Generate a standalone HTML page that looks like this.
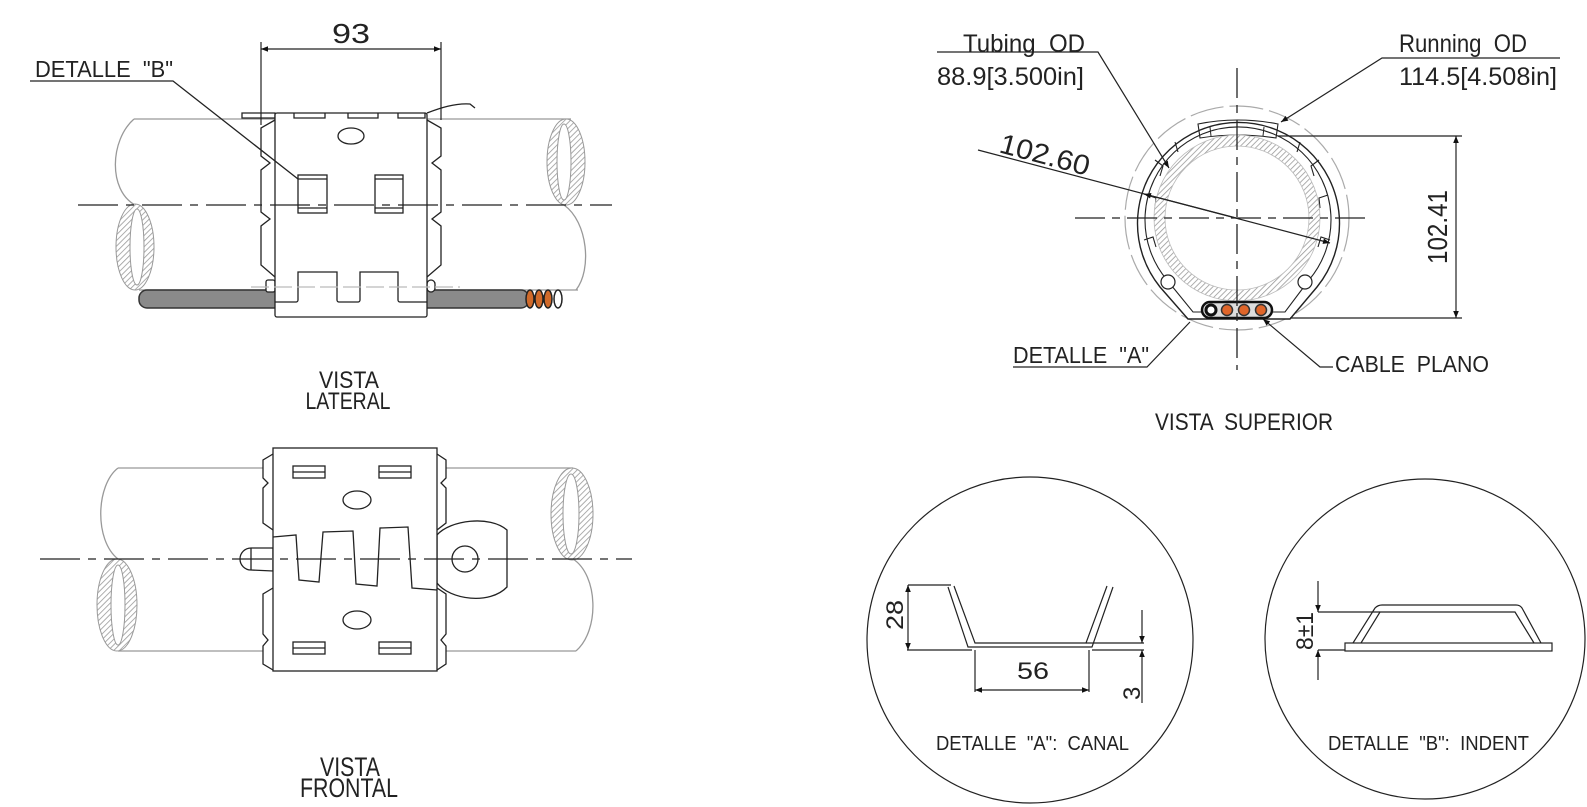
<!DOCTYPE html>
<html><head><meta charset="utf-8"><style>
html,body{margin:0;padding:0;background:#fff;}
svg{display:block;}
text{font-family:"Liberation Sans",sans-serif;fill:#222;white-space:pre;}
</style></head><body>
<svg width="1587" height="807" viewBox="0 0 1587 807" xmlns="http://www.w3.org/2000/svg">
<defs>
<pattern id="h" width="4" height="4" patternUnits="userSpaceOnUse" patternTransform="rotate(45)">
<rect width="4" height="4" fill="#fff"/><line x1="0" y1="0" x2="0" y2="4" stroke="#999" stroke-width="1.6"/></pattern>
<marker id="ar" viewBox="0 0 10 10" refX="10" refY="5" markerWidth="14" markerHeight="7" orient="auto-start-reverse" markerUnits="userSpaceOnUse"><path d="M0,1 L10,5 L0,9 z" fill="#111"/></marker>
</defs>

<!-- ============ VISTA LATERAL ============ -->
<g fill="none" stroke="#999" stroke-width="1.3">
<line x1="134" y1="119" x2="571" y2="119"/>
<line x1="139" y1="290" x2="578" y2="290"/>
<path d="M134,119 C110,140 108,190 135,205"/>
<path d="M564,205 C588,222 592,270 576,290"/>
</g>
<ellipse cx="135" cy="247" rx="19" ry="43" fill="url(#h)" stroke="#999"/>
<ellipse cx="137" cy="247" rx="7" ry="38" fill="#fff" stroke="#999"/>
<ellipse cx="566" cy="162" rx="19" ry="43" fill="url(#h)" stroke="#999"/>
<ellipse cx="564" cy="162" rx="7" ry="38" fill="#fff" stroke="#999"/>
<rect x="139" y="290" width="390" height="18" rx="8" fill="#8a8a8a" stroke="#333" stroke-width="1.5"/>
<g stroke="#222" stroke-width="1.5">
<ellipse cx="530" cy="299" rx="4" ry="9" fill="#d06a2a"/>
<ellipse cx="539" cy="299" rx="4" ry="9" fill="#d06a2a"/>
<ellipse cx="548" cy="299" rx="4" ry="9" fill="#d06a2a"/>
<ellipse cx="558" cy="299" rx="4" ry="9" fill="#fff"/>
</g>
<g stroke="#222" stroke-width="1.3" fill="#fff">
<path d="M242,113 L275,113 L275,118 L242,118 z"/>
<path d="M275,120 L261,128 L261,156 L270,163 L261,170 L261,212 L270,219 L261,226 L261,265 L275,277"/>
<path d="M427,120 L441,128 L441,156 L432,163 L441,170 L441,212 L432,219 L441,226 L441,265 L427,277"/>
<rect x="266" y="280" width="9" height="12" rx="2"/>
<rect x="427" y="280" width="8" height="12" rx="4"/>
<rect x="275" y="113" width="152" height="204" rx="2"/>
<path d="M294,113 V118 H325 V113 M348,113 V118 H378 V113 M398,113 V118 H425 V113" fill="none"/>
<path d="M427,113 C440,108 455,103 470,104 L475,108" fill="none"/>
<ellipse cx="351" cy="136" rx="13" ry="8"/>
<rect x="298" y="175" width="29" height="38"/>
<rect x="375" y="175" width="28" height="38"/>
<path d="M298,179 H327 M298,208 H327 M375,179 H403 M375,208 H403" fill="none"/>
<path d="M275,302 H296 a2,2 0 0 0 2,-2 V272 H337 V300 a2,2 0 0 0 2,2 H358 a2,2 0 0 0 2,-2 V272 H398 V300 a2,2 0 0 0 2,2 H427" fill="none"/>
</g>
<line x1="251" y1="287" x2="460" y2="287" stroke="#bbb" stroke-width="1.3" stroke-dasharray="18 5"/>
<line x1="78" y1="205" x2="612" y2="205" stroke="#222" stroke-width="1.3" stroke-dasharray="40 8 8 8"/>
<g stroke="#222" stroke-width="1.2">
<line x1="261" y1="42" x2="261" y2="125"/>
<line x1="441" y1="42" x2="441" y2="120"/>
<line x1="261" y1="49" x2="441" y2="49" marker-start="url(#ar)" marker-end="url(#ar)"/>
</g>
<text x="351" y="43" font-size="28" text-anchor="middle" textLength="38" lengthAdjust="spacingAndGlyphs">93</text>
<text x="35" y="77" font-size="23" textLength="138" lengthAdjust="spacingAndGlyphs">DETALLE  "B"</text>
<polyline points="30,81 173,81 298,179" fill="none" stroke="#222" stroke-width="1.3"/>
<text x="349" y="388" font-size="24" text-anchor="middle" textLength="60" lengthAdjust="spacingAndGlyphs">VISTA</text>
<text x="348" y="409" font-size="24" text-anchor="middle" textLength="85" lengthAdjust="spacingAndGlyphs">LATERAL</text>

<!-- ============ VISTA FRONTAL ============ -->
<g fill="none" stroke="#999" stroke-width="1.3">
<line x1="118" y1="468" x2="263" y2="468"/>
<line x1="446" y1="468" x2="573" y2="468"/>
<line x1="118" y1="651" x2="263" y2="651"/>
<line x1="446" y1="651" x2="576" y2="651"/>
<path d="M118,468 C96,485 94,540 118,559"/>
<path d="M573,559 C598,575 600,630 576,651"/>
</g>
<ellipse cx="117" cy="605" rx="20" ry="46" fill="url(#h)" stroke="#999"/>
<ellipse cx="118" cy="605" rx="7" ry="40" fill="#fff" stroke="#999"/>
<ellipse cx="572" cy="514" rx="21" ry="46" fill="url(#h)" stroke="#999"/>
<ellipse cx="571" cy="514" rx="8" ry="40" fill="#fff" stroke="#999"/>
<g stroke="#222" stroke-width="1.3" fill="#fff">
<path d="M273,454 L263,460 L263,478 L268,483 L263,488 L263,523 L273,530"/>
<path d="M273,588 L263,594 L263,634 L268,640 L263,646 L263,664 L273,670"/>
<path d="M437,454 L446,460 L446,478 L441,483 L446,488 L446,523 L437,530"/>
<path d="M437,588 L446,594 L446,634 L441,640 L446,646 L446,664 L437,670"/>
<path d="M273,548 L251,548 A11,11 0 0 0 251,570 L273,571 z"/>
<line x1="251" y1="548" x2="251" y2="570"/>
<path d="M437,535 C450,520 490,515 507,530 L507,587 C490,605 450,600 437,583 z"/>
<rect x="273" y="448" width="164" height="223"/>
<circle cx="465" cy="559" r="13"/>
<rect x="293" y="466" width="32" height="12"/><rect x="379" y="466" width="32" height="12"/>
<rect x="293" y="642" width="32" height="12"/><rect x="379" y="642" width="32" height="12"/>
<path d="M293,472 H325 M379,472 H411 M293,648 H325 M379,648 H411" fill="none"/>
<ellipse cx="357" cy="500" rx="14" ry="9"/>
<ellipse cx="357" cy="620" rx="14" ry="9"/>
<polyline fill="none" points="273,537 296,535 299,580 319,582 323,532 353,531 356,584 377,586 380,528 408,527 412,588 437,590"/>
</g>
<line x1="40" y1="559" x2="632" y2="559" stroke="#222" stroke-width="1.3" stroke-dasharray="40 8 8 8"/>
<text x="350" y="776" font-size="27" text-anchor="middle" textLength="60" lengthAdjust="spacingAndGlyphs">VISTA</text>
<text x="349" y="797" font-size="27" text-anchor="middle" textLength="98" lengthAdjust="spacingAndGlyphs">FRONTAL</text>

<!-- ============ VISTA SUPERIOR ============ -->
<circle cx="1237" cy="218" r="112" fill="none" stroke="#aaa" stroke-width="1.2" stroke-dasharray="34 6"/>
<g stroke="#222" stroke-width="1.4" fill="#fff">
<path d="M1160,287 A101,101 0 1 1 1317,287 L1290,319 L1188,319 z"/>
<path d="M1167,280 A93,93 0 1 1 1309,280 L1285,312 L1193,312 z" fill="none" stroke-width="1.1"/>
<path d="M1198,124 Q1237,116 1278,124 L1276,138 Q1237,132 1200,138 z" fill="none" stroke-width="1.1"/>
<path d="M1210,127 L1211,136 M1264,127 L1263,136" fill="none" stroke-width="1"/>
</g>
<g fill="none" stroke="#222" stroke-width="1.1">
<path d="M1155,160 l8,6 l-3,10 M1147,195 l9,3 l-1,10 M1144,240 l9,-3 l3,10 M1319,160 l-8,6 l3,10 M1328,195 l-9,3 l1,10 M1330,240 l-9,-3 l-3,10 M1175,142 l3,10 M1300,142 l-3,10"/>
</g>
<circle cx="1237" cy="218" r="77.5" fill="none" stroke="url(#h)" stroke-width="11"/>
<circle cx="1237" cy="218" r="72" fill="none" stroke="#bbb" stroke-width="0.8"/>
<circle cx="1237" cy="218" r="83" fill="none" stroke="#bbb" stroke-width="0.8"/>
<g stroke="#222" stroke-width="1.2" fill="#fff">
<circle cx="1168" cy="282" r="7"/><circle cx="1305" cy="282" r="7"/>
</g>
<rect x="1202" y="302" width="70" height="16" rx="8" fill="#ddd" stroke="#111" stroke-width="2.5"/>
<circle cx="1211" cy="310" r="5" fill="#fff" stroke="#111" stroke-width="3"/>
<g fill="#e0662a" stroke="#333" stroke-width="1.5">
<circle cx="1227" cy="310" r="5.5"/><circle cx="1244" cy="310" r="5.5"/><circle cx="1261" cy="310" r="5.5"/>
</g>
<g stroke="#222" stroke-width="1.3">
<line x1="1075" y1="218" x2="1370" y2="218" stroke-dasharray="30 7 8 7"/>
<line x1="1237" y1="68" x2="1237" y2="370" stroke-dasharray="30 7 8 7"/>
</g>
<g stroke="#222" stroke-width="1.2" fill="none">
<line x1="978" y1="150" x2="1330" y2="243" marker-end="url(#ar)"/>
<line x1="1240" y1="219" x2="1144" y2="194" marker-end="url(#ar)"/>
<polyline points="937,52 1098,52 1169,168" marker-end="url(#ar)"/>
<polyline points="1560,58 1382,58 1281,122" marker-end="url(#ar)"/>
<line x1="1278" y1="136" x2="1462" y2="136"/>
<line x1="1290" y1="318" x2="1462" y2="318"/>
<line x1="1456" y1="136" x2="1456" y2="318" marker-start="url(#ar)" marker-end="url(#ar)"/>
<polyline points="1013,367 1147,367 1190,322"/>
<polyline points="1333,367 1320,367 1263,319" marker-end="url(#ar)"/>
</g>
<text x="963" y="52" font-size="25" textLength="122" lengthAdjust="spacingAndGlyphs">Tubing  OD</text>
<text x="937" y="85" font-size="25" textLength="147" lengthAdjust="spacingAndGlyphs">88.9[3.500in]</text>
<text x="1399" y="52" font-size="25" textLength="128" lengthAdjust="spacingAndGlyphs">Running  OD</text>
<text x="1399" y="85" font-size="25" textLength="158" lengthAdjust="spacingAndGlyphs">114.5[4.508in]</text>
<text x="0" y="0" font-size="28" transform="translate(998,152) rotate(15)" textLength="92" lengthAdjust="spacingAndGlyphs">102.60</text>
<text x="0" y="0" font-size="28" transform="translate(1447,264) rotate(-90)" textLength="74" lengthAdjust="spacingAndGlyphs">102.41</text>
<text x="1013" y="363" font-size="23" textLength="136" lengthAdjust="spacingAndGlyphs">DETALLE  "A"</text>
<text x="1335" y="372" font-size="23" textLength="154" lengthAdjust="spacingAndGlyphs">CABLE  PLANO</text>
<text x="1244" y="430" font-size="24" text-anchor="middle" textLength="178" lengthAdjust="spacingAndGlyphs">VISTA  SUPERIOR</text>

<!-- ============ DETALLE A ============ -->
<circle cx="1030" cy="640" r="163" fill="none" stroke="#222" stroke-width="1.2"/>
<g fill="none" stroke="#222" stroke-width="1.2">
<path d="M948,587 L968,647 L1092,647 L1113,587"/>
<path d="M954,586 L975,643 L1086,643 L1107,586"/>
<line x1="908" y1="585" x2="951" y2="585"/>
<line x1="907" y1="650" x2="972" y2="650"/>
<line x1="1092" y1="650" x2="1144" y2="650"/>
<line x1="1086" y1="643" x2="1144" y2="643"/>
<line x1="908" y1="585" x2="908" y2="650" marker-start="url(#ar)" marker-end="url(#ar)"/>
<line x1="975" y1="650" x2="975" y2="692"/>
<line x1="1089" y1="650" x2="1089" y2="692"/>
<line x1="975" y1="690" x2="1089" y2="690" marker-start="url(#ar)" marker-end="url(#ar)"/>
<line x1="1142" y1="610" x2="1142" y2="643" marker-end="url(#ar)"/>
<line x1="1142" y1="703" x2="1142" y2="650" marker-end="url(#ar)"/>
</g>
<text x="0" y="0" font-size="24" transform="translate(903,630) rotate(-90)" textLength="30" lengthAdjust="spacingAndGlyphs">28</text>
<text x="1033" y="679" font-size="24" text-anchor="middle" textLength="32" lengthAdjust="spacingAndGlyphs">56</text>
<text x="0" y="0" font-size="24" transform="translate(1140,700) rotate(-90)">3</text>
<text x="936" y="750" font-size="20" textLength="193" lengthAdjust="spacingAndGlyphs">DETALLE  "A":  CANAL</text>

<!-- ============ DETALLE B ============ -->
<circle cx="1425" cy="639" r="160" fill="none" stroke="#222" stroke-width="1.2"/>
<g fill="none" stroke="#222" stroke-width="1.2">
<rect x="1345" y="643" width="207" height="8"/>
<path d="M1353,643 L1375,608 Q1378,605 1382,605 L1516,605 Q1520,605 1522,608 L1541,643"/>
<path d="M1361,643 L1380,612 L1515,612 L1534,643"/>
<line x1="1318" y1="612" x2="1380" y2="612"/>
<line x1="1318" y1="650" x2="1345" y2="650"/>
<line x1="1318" y1="581" x2="1318" y2="612" marker-end="url(#ar)"/>
<line x1="1318" y1="680" x2="1318" y2="650" marker-end="url(#ar)"/>
</g>
<text x="0" y="0" font-size="24" transform="translate(1313,650) rotate(-90)" textLength="38" lengthAdjust="spacingAndGlyphs">8±1</text>
<text x="1328" y="750" font-size="20" textLength="201" lengthAdjust="spacingAndGlyphs">DETALLE  "B":  INDENT</text>
</svg>
</body></html>
